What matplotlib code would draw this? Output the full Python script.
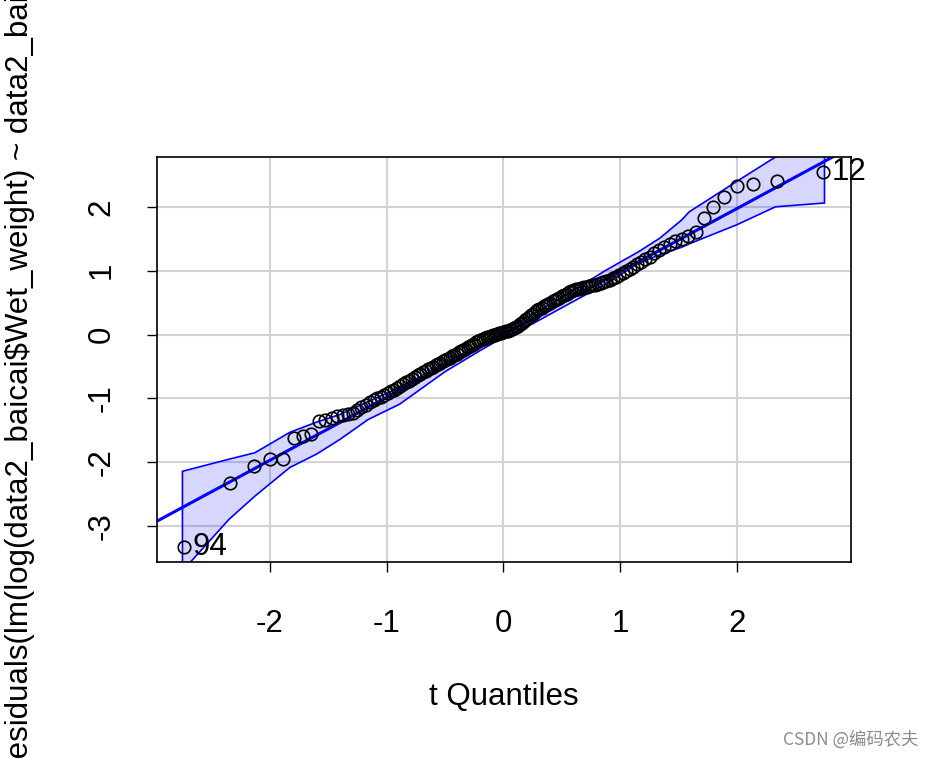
import numpy as np
import matplotlib
matplotlib.use("Agg")
import matplotlib.pyplot as plt
from statistics import NormalDist

plt.rcParams['font.family'] = ['Liberation Sans', 'DejaVu Sans']

# sorted studentized residuals
resid_low = [-3.32, -2.33, -2.06, -1.95, -1.94, -1.62, -1.58, -1.55, -1.36, -1.33,
             -1.30, -1.28, -1.26, -1.24, -1.22, -1.18, -1.14, -1.10, -1.06, -1.03,
             -1.00, -0.97, -0.94, -0.92, -0.89, -0.86, -0.83, -0.80, -0.78, -0.75,
             -0.72, -0.70, -0.67, -0.64, -0.62, -0.59, -0.57, -0.54, -0.52, -0.50,
             -0.48, -0.46, -0.44, -0.42, -0.40, -0.38, -0.36, -0.34, -0.32, -0.30,
             -0.28, -0.26, -0.24, -0.22, -0.20, -0.18, -0.16, -0.14, -0.12, -0.10,
             -0.09, -0.07, -0.06, -0.04, -0.03, -0.02, -0.01, 0.00, 0.01, 0.02,
             0.03, 0.04, 0.05, 0.06, 0.07]
resid_high = [0.08, 0.10, 0.12, 0.14, 0.16, 0.18, 0.21, 0.24, 0.27, 0.30,
              0.33, 0.36, 0.38, 0.40, 0.42, 0.44, 0.46, 0.48, 0.50, 0.52,
              0.54, 0.56, 0.58, 0.60, 0.62, 0.64, 0.66, 0.68, 0.70, 0.71,
              0.72, 0.73, 0.74, 0.75, 0.76, 0.77, 0.78, 0.79, 0.80, 0.82,
              0.84, 0.86, 0.88, 0.90, 0.93, 0.96, 0.99, 1.02, 1.06, 1.10,
              1.14, 1.18, 1.22, 1.27, 1.32, 1.37, 1.42, 1.47, 1.49, 1.55,
              1.61, 1.83, 2.00, 2.16, 2.33, 2.36, 2.41, 2.55]
resid = np.array(resid_low + resid_high)

# simulated envelope knots
env_x = [-2.75, -2.35, -2.13, -1.83, -1.6, -1.4, -1.16, -0.89, -0.5, -0.2, 0, 0.2, 0.5,
         0.88, 1.16, 1.34, 1.53, 1.59, 2.0, 2.33, 2.75]
env_up = [-2.14, -1.95, -1.85, -1.53, -1.37, -1.25, -1.05, -0.83, -0.45, -0.15, 0.06,
          0.27, 0.58, 1.01, 1.30, 1.51, 1.80, 1.92, 2.40, 2.78, 2.95]
env_lo = [-3.7, -2.89, -2.53, -2.08, -1.87, -1.64, -1.33, -1.09, -0.58, -0.25, -0.04,
          0.12, 0.42, 0.80, 1.12, 1.25, 1.37, 1.42, 1.72, 2.00, 2.06]

line_slope, line_int = 0.985, 0.003
labels = {94: 0, 12: -1}  # label -> index in sorted order

n = len(resid)
nd = NormalDist()
q = np.array([nd.inv_cdf((i + 0.5) / n) for i in range(n)]) * 1.015

FS = 22.5
fig = plt.figure(figsize=(9.32, 7.58), dpi=100)
ax = fig.add_axes([157/932, 1-562/758, (851-157)/932, (562-157)/758])
ax.set_xlim(-2.968, 2.977)
ax.set_ylim(-3.56, 2.78)
ticks_x = [-2, -1, 0, 1, 2]
ticks_y = [-3, -2, -1, 0, 1, 2]
for t in ticks_x:
    ax.axvline(t, color='#d3d3d3', lw=1.5, zorder=0)
for t in ticks_y:
    ax.axhline(t, color='#d3d3d3', lw=1.5, zorder=0)

ex = np.array(env_x)
ax.fill(np.r_[ex, ex[::-1]], np.r_[env_up, env_lo[::-1]], facecolor=(0, 0, 1, 0.16),
        edgecolor='blue', lw=1.2, zorder=1)
xx = np.array([-3.2, 3.2])
ax.plot(xx, line_slope*xx + line_int, color='blue', lw=2.2, zorder=2)
ax.plot(q, resid, 'o', mfc='none', mec='black', ms=9, mew=1.2, zorder=3)
for lab, idx in labels.items():
    ax.text(q[idx] + 0.07, resid[idx], str(lab), fontsize=FS, va='center', ha='left', zorder=4)

ax.set_xticks(ticks_x)
ax.set_xticklabels(['-2', '-1', '0', '1', '2'])
ax.set_yticks(ticks_y)
ax.set_yticklabels(['-3', '-2', '-1', '0', '1', '2'], rotation=90, va='center')
ax.tick_params(labelsize=FS, length=7, width=1, pad=27)
ax.tick_params(axis='y', pad=22)
for s in ax.spines.values():
    s.set_linewidth(1.2)
fig.text(504/932, 1-697/758, 't Quantiles', fontsize=FS, ha='center', va='center')
fig.text(20/932, -0.03, 'Residuals(lm(log(data2_baicai\\$Wet_weight) ~ data2_baicai\\$Treatment))',
         fontsize=FS, rotation=90, ha='center', va='bottom')
fig.text(0.985, 1-740/758, 'CSDN @编码农夫', fontsize=12.5, color='#8c8c8c', ha='right', va='center',
         family=['Noto Sans CJK SC', 'DejaVu Sans'])
fig.savefig('out.png', dpi=100)
